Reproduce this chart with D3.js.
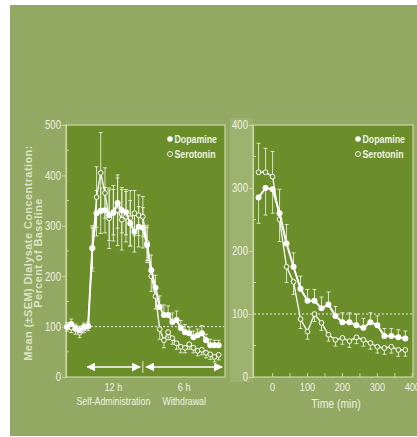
<!DOCTYPE html>
<html><head><meta charset="utf-8">
<script src="https://cdn.jsdelivr.net/npm/d3@7"></script>
<style>
html,body{margin:0;padding:0;background:#fff;}
svg{display:block;}
text{font-family:"Liberation Sans",Arial,sans-serif;}
</style></head>
<body>
<svg id="chart" width="417" height="437"></svg>
<script>
// ---------- data ----------
// Left panel: sample index (baseline, 12 h self-administration, 6 h withdrawal)
const leftIndex = d3.range(37);
const leftDopamine = [99,105,97,93,99,101,256,325,330,331,321,327,345,331,327,305,288,298,296,262,212,177,139,123,123,109,113,97,89,87,79,83,87,73,63,63,63];
const leftDopamineSEM = [8,10,8,8,8,8,40,45,45,45,50,45,50,45,45,45,40,40,40,35,30,25,22,20,18,18,18,15,15,12,12,12,15,12,12,10,10];
const leftSerotonin = [100,98,95,88,96,100,255,357,405,365,315,325,331,312,318,315,325,321,318,266,200,160,95,73,89,77,67,60,58,65,58,52,54,48,45,40,44];
const leftSerotoninSEM = [8,10,10,10,8,8,45,60,80,50,60,55,70,60,50,55,45,40,40,35,30,25,20,15,15,12,12,12,10,10,10,10,10,10,10,10,10];
const leftYTicks = [0,100,200,300,400,500];
const leftPhaseLabels = ["12 h","6 h"];
const leftPhaseNames = ["Self-Administration","Withdrawal"];

// Right panel: time (min)
const rightTime = [-40,-20,0,20,40,60,80,100,120,140,160,180,200,220,240,260,280,300,320,340,360,380];
const rightDopamine = [285,300,298,260,212,175,140,121,121,109,115,97,87,87,82,78,87,82,65,65,63,61];
const rightDopamineSEM = [41,43,38,38,30,22,20,18,18,18,20,15,15,15,18,15,15,15,12,12,12,12];
const rightSerotonin = [325,325,318,250,175,151,92,72,100,86,67,59,62,57,63,59,54,48,46,48,43,43];
const rightSerotoninSEM = [46,38,40,35,25,20,15,12,12,12,10,10,10,10,10,10,10,10,10,10,10,10];
const rightYTicks = [0,100,200,300,400];
const rightXTicks = [0,100,200,300,400];

const seriesNames = ["Dopamine","Serotonin"];
const yTitle1 = "Mean (\u00B1SEM) Dialysate Concentration:";
const yTitle2 = "Percent of Baseline";
const xTitleRight = "Time (min)";

// ---------- styles ----------
const BG = "#93a862", PLOT = "#6b8e2b", FRAME = "#c9d6a6", TXT = "#eef2e2", WHITE = "#ffffff";
const NARROW = 0.8;
// horizontally condense text (narrow typeface look) via a scale transform
function condense(sel, f){
  sel.each(function(){
    const t = d3.select(this);
    const x = +t.attr("x") || 0, y = +t.attr("y") || 0;
    t.attr("x",0).attr("y",0).attr("transform",`translate(${x},${y}) scale(${f},1)`);
  });
  return sel;
}

const svg = d3.select("#chart");
svg.append("rect").attr("x",10).attr("y",5).attr("width",407).attr("height",431).attr("fill",BG);
svg.append("rect").attr("x",230).attr("y",118).attr("width",23).attr("height",264).attr("fill","#9db26f");

function panel(o){
  const g = svg.append("g");
  const [x0,x1] = o.x.range(), [yb,yt] = o.y.range();
  g.append("rect").attr("x",x0).attr("y",yt).attr("width",x1-x0).attr("height",yb-yt)
    .attr("fill",PLOT).attr("stroke",FRAME).attr("stroke-width",1.2);
  g.append("line").attr("x1",x0+1).attr("x2",x1-1).attr("y1",o.y(100)).attr("y2",o.y(100))
    .attr("stroke",WHITE).attr("stroke-width",1).attr("stroke-dasharray","2,2").attr("opacity",0.85);
  const ya = g.append("g").attr("transform",`translate(${x0},0)`)
    .call(d3.axisLeft(o.y).tickValues(o.yTicks).tickSize(4).tickPadding(1).tickFormat(d3.format("d")));
  ya.select(".domain").attr("stroke",FRAME).attr("stroke-width",1.2);
  ya.selectAll(".tick line").attr("stroke",FRAME);
  const tt = ya.selectAll(".tick text").attr("fill",TXT).attr("font-size",12).attr("font-family",null);
  condense(tt, NARROW);
  const minors = d3.range(50, o.y.domain()[1], 100);
  g.selectAll(null).data(minors).join("line")
    .attr("x1",x0).attr("x2",x0+3).attr("y1",d=>o.y(d)).attr("y2",d=>o.y(d))
    .attr("stroke",FRAME).attr("stroke-width",1);
  return g;
}

function series(g, x, y, xs, d, dS, s, sS, bothFn){
  const cap = 2;
  function err(vals, sems, up, dn){
    xs.forEach((t,i)=>{
      const cx = x(t);
      const segs = [];
      if (up(i)) segs.push(vals[i]+sems[i]);
      if (dn(i)) segs.push(vals[i]-sems[i]);
      segs.forEach(e=>{
        g.append("line").attr("x1",cx).attr("x2",cx).attr("y1",y(vals[i])).attr("y2",y(e))
          .attr("stroke","#f4f7ea").attr("stroke-width",0.8);
        g.append("line").attr("x1",cx-cap).attr("x2",cx+cap).attr("y1",y(e)).attr("y2",y(e))
          .attr("stroke","#f4f7ea").attr("stroke-width",0.8);
      });
    });
  }
  err(s, sS, i=>bothFn(i)||s[i]>d[i], i=>bothFn(i)||s[i]<=d[i]);
  err(d, dS, i=>bothFn(i)||d[i]>=s[i], i=>bothFn(i)||d[i]<s[i]);
  const line = vals => d3.line().x((t,i)=>x(t)).y((t,i)=>y(vals[i]))(xs);
  g.append("path").attr("d",line(s)).attr("fill","none").attr("stroke",WHITE).attr("stroke-width",1.3);
  g.selectAll(null).data(xs).join("circle")
    .attr("cx",t=>x(t)).attr("cy",(t,i)=>y(s[i])).attr("r",2.4)
    .attr("fill",PLOT).attr("stroke",WHITE).attr("stroke-width",1);
  g.append("path").attr("d",line(d)).attr("fill","none").attr("stroke",WHITE).attr("stroke-width",2);
  g.selectAll(null).data(xs).join("circle")
    .attr("cx",t=>x(t)).attr("cy",(t,i)=>y(d[i])).attr("r",3)
    .attr("fill",WHITE);
}

function legend(g, lx, ly){
  seriesNames.forEach((n,i)=>{
    const yy = ly + i*15;
    g.append("circle").attr("cx",lx).attr("cy",yy).attr("r",i===0?2.8:2.5)
      .attr("fill",i===0?WHITE:PLOT).attr("stroke",WHITE).attr("stroke-width",i===0?0:0.9);
    condense(g.append("text").attr("x",lx+4.5).attr("y",yy+3.8).text(n)
      .attr("fill",TXT).attr("font-size",11).attr("font-weight","bold"), NARROW);
  });
}

// ---------- left panel ----------
const xL = d3.scaleLinear().domain([-0.25,37.5]).range([66,225]);
const yL = d3.scaleLinear().domain([0,500]).range([377,125]);
const gL = panel({x:xL, y:yL, yTicks:leftYTicks});
series(gL, xL, yL, leftIndex, leftDopamine, leftDopamineSEM, leftSerotonin, leftSerotoninSEM, i=>i>=6 && i<=19);
legend(gL, 170, 139);

const defs = svg.append("defs");
defs.append("marker").attr("id","ah").attr("viewBox","0 0 10 10").attr("refX",9).attr("refY",5)
  .attr("markerWidth",6).attr("markerHeight",6).attr("orient","auto-start-reverse")
  .append("path").attr("d","M0,0 L10,5 L0,10 Z").attr("fill",WHITE);
const arrowY = 367;
[[4.8,17.3],[18.8,36.8]].forEach(([a,b])=>{
  gL.append("line").attr("x1",xL(a)).attr("x2",xL(b)).attr("y1",arrowY).attr("y2",arrowY)
    .attr("stroke",WHITE).attr("stroke-width",1.5)
    .attr("marker-start","url(#ah)").attr("marker-end","url(#ah)");
});
gL.append("line").attr("x1",xL(18)).attr("x2",xL(18)).attr("y1",arrowY-6).attr("y2",arrowY+6)
  .attr("stroke",WHITE).attr("stroke-width",0.8);
[11,27.8].forEach((c,i)=>{
  condense(gL.append("text").attr("x",xL(c)).attr("y",391).attr("text-anchor","middle")
    .attr("fill",TXT).attr("font-size",11.5).text(leftPhaseLabels[i]), NARROW);
  condense(gL.append("text").attr("x",xL(c)).attr("y",405).attr("text-anchor","middle")
    .attr("fill",TXT).attr("font-size",11).text(leftPhaseNames[i]), NARROW);
});

const yt = svg.append("g").attr("transform","translate(32,253) rotate(-90)");
[yTitle1, yTitle2].forEach((t,i)=>{
  yt.append("text").attr("x",0).attr("y",i*9.5).attr("text-anchor","middle").attr("fill","#dbe4c4")
    .attr("font-size",11).attr("font-weight","bold").attr("letter-spacing",0.4).text(t);
});

// ---------- right panel ----------
const xR = d3.scaleLinear().domain([-56,402]).range([253,413]);
const yR = d3.scaleLinear().domain([0,400]).range([377,125]);
const gR = panel({x:xR, y:yR, yTicks:rightYTicks});
gR.selectAll(null).data(d3.range(0,401,50)).join("line")
  .attr("x1",d=>xR(d)).attr("x2",d=>xR(d)).attr("y1",377).attr("y2",373)
  .attr("stroke",FRAME).attr("stroke-width",1);
condense(gR.selectAll(null).data(rightXTicks).join("text")
  .attr("x",d=>xR(d)).attr("y",391).attr("text-anchor","middle")
  .attr("fill",TXT).attr("font-size",11.5).text(d=>d), NARROW);
condense(gR.append("text").attr("x",336).attr("y",408).attr("text-anchor","middle")
  .attr("fill",TXT).attr("font-size",13).text(xTitleRight), NARROW);
series(gR, xR, yR, rightTime, rightDopamine, rightDopamineSEM, rightSerotonin, rightSerotoninSEM, i=>false);
legend(gR, 358, 139);
</script>
</body></html>
